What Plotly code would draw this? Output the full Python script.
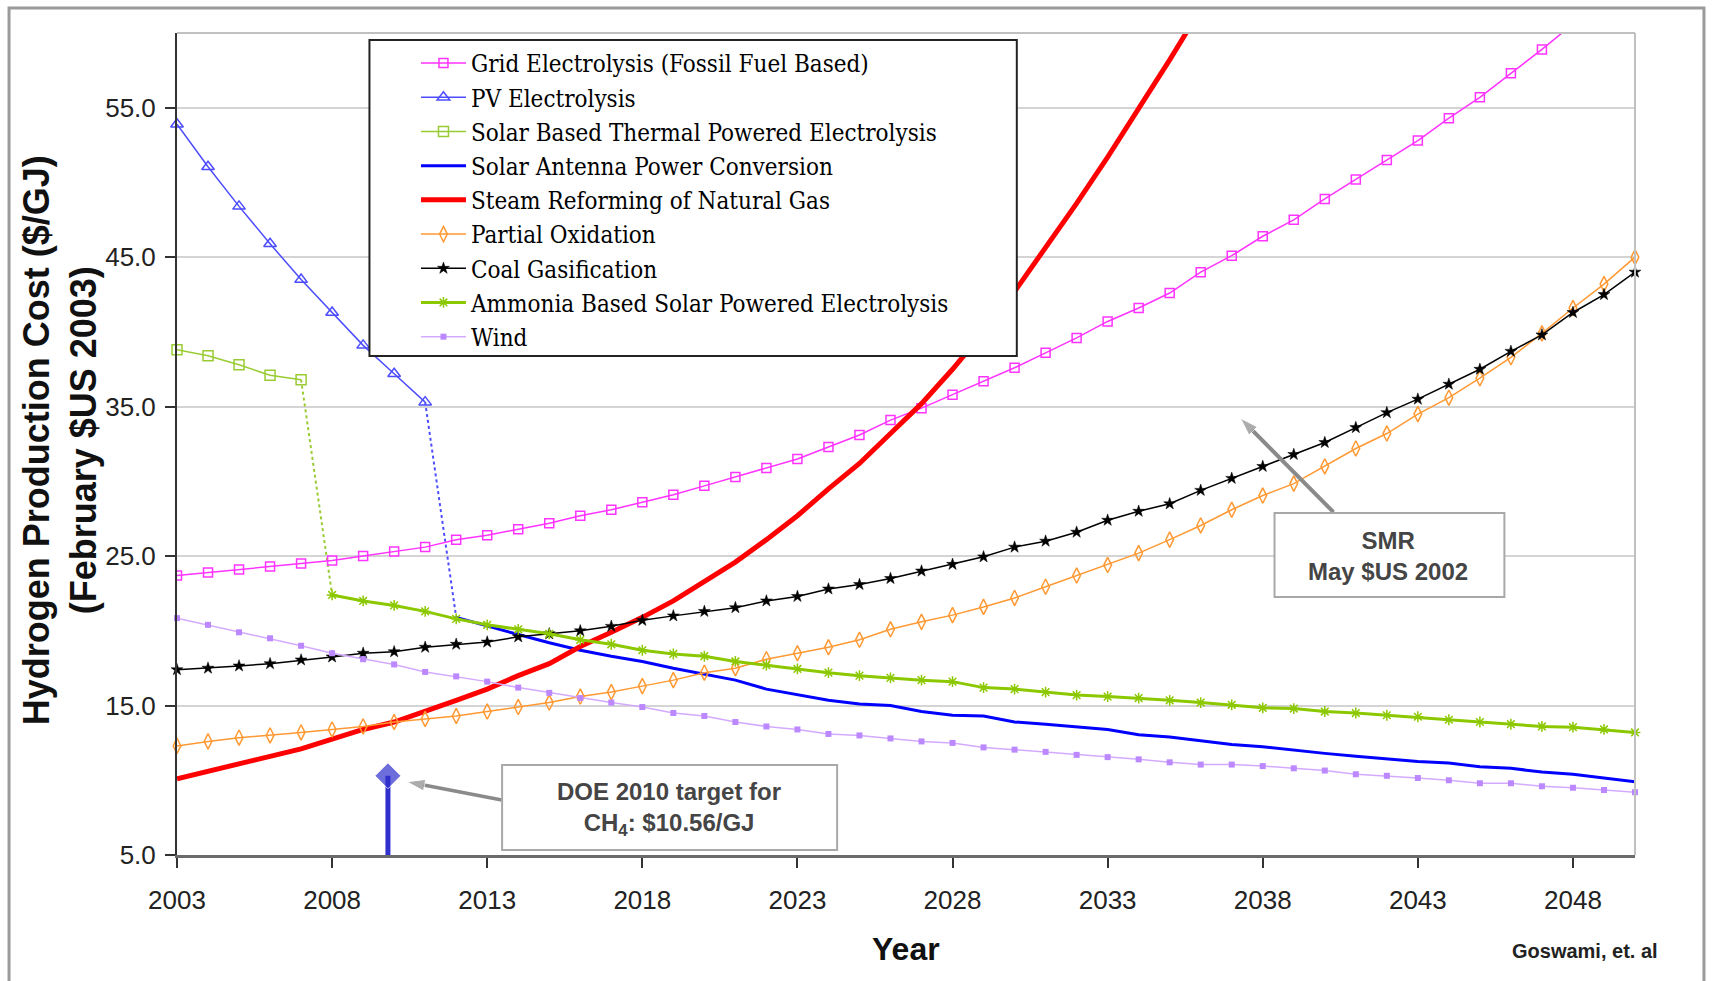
import plotly.graph_objects as go

# ---------------- data ----------------
years = list(range(2003, 2051))

grid_years = list(range(2003, 2049))
grid_cost = [23.7, 23.9, 24.1, 24.3, 24.5, 24.7, 25.0, 25.3, 25.6, 26.1,
             26.4, 26.8, 27.2, 27.7, 28.1, 28.6, 29.1, 29.7, 30.3, 30.9,
             31.5, 32.3, 33.1, 34.1, 34.9, 35.8, 36.7, 37.6, 38.6, 39.6,
             40.7, 41.6, 42.6, 44.0, 45.1, 46.4, 47.5, 48.9, 50.2, 51.5,
             52.8, 54.3, 55.7, 57.3, 58.9, 60.6]

pv_years = list(range(2003, 2012))
pv_cost = [53.9, 51.05, 48.4, 45.9, 43.5, 41.3, 39.1, 37.2, 35.3]

thermal_years = list(range(2003, 2008))
thermal_cost = [38.8, 38.4, 37.8, 37.1, 36.8]

antenna_years = list(range(2012, 2051))
antenna_cost = [20.9, 20.3, 19.75, 19.2, 18.7, 18.3, 17.95, 17.5, 17.1, 16.7,
                16.1, 15.7, 15.35, 15.1, 15.0, 14.6, 14.35, 14.3, 13.9, 13.75,
                13.55, 13.4, 13.05, 12.9, 12.65, 12.4, 12.25, 12.0, 11.8, 11.6,
                11.4, 11.25, 11.15, 10.9, 10.8, 10.55, 10.4, 10.15, 9.9]

smr_years = list(range(2003, 2037))
smr_cost = [10.1, 10.6, 11.1, 11.55, 12.1, 12.75, 13.4, 13.9, 14.6, 15.35,
            16.1, 17.0, 17.8, 18.95, 19.9, 20.9, 22.0, 23.3, 24.6, 26.1,
            27.7, 29.5, 31.2, 33.2, 35.2, 37.5, 40.0, 42.7, 45.6, 48.6,
            51.7, 54.9, 58.2, 61.6]

pox_cost = [12.3, 12.6, 12.85, 13.0, 13.2, 13.4, 13.6, 13.9, 14.1, 14.3,
            14.6, 14.9, 15.2, 15.6, 15.9, 16.3, 16.7, 17.2, 17.5, 18.1,
            18.5, 18.9, 19.4, 20.1, 20.6, 21.05, 21.6, 22.2, 22.95, 23.7,
            24.4, 25.2, 26.1, 27.05, 28.1, 29.05, 29.85, 31.0, 32.2, 33.2,
            34.5, 35.6, 36.9, 38.3, 39.9, 41.6, 43.2, 45.0]

coal_cost = [17.4, 17.5, 17.65, 17.8, 18.05, 18.25, 18.5, 18.6, 18.9, 19.1,
             19.25, 19.6, 19.8, 20.0, 20.3, 20.7, 21.0, 21.3, 21.55, 22.0,
             22.3, 22.8, 23.1, 23.5, 24.0, 24.45, 24.95, 25.6, 26.0, 26.6,
             27.4, 28.0, 28.5, 29.4, 30.2, 31.0, 31.8, 32.6, 33.6, 34.6,
             35.5, 36.5, 37.5, 38.7, 39.8, 41.3, 42.5, 44.0]

ammonia_years = list(range(2008, 2051))
ammonia_cost = [22.4, 22.0, 21.7, 21.3, 20.8, 20.4, 20.1, 19.8, 19.4, 19.1,
                18.7, 18.45, 18.3, 17.95, 17.7, 17.45, 17.2, 17.0, 16.85, 16.7,
                16.6, 16.2, 16.1, 15.9, 15.7, 15.6, 15.5, 15.35, 15.2, 15.05,
                14.85, 14.8, 14.6, 14.5, 14.35, 14.25, 14.05, 13.9, 13.75, 13.6,
                13.55, 13.4, 13.2]

wind_cost = [20.85, 20.4, 19.9, 19.5, 19.0, 18.5, 18.1, 17.75, 17.25, 16.95,
             16.6, 16.2, 15.85, 15.5, 15.2, 14.9, 14.5, 14.3, 13.9, 13.6,
             13.4, 13.1, 13.0, 12.8, 12.6, 12.5, 12.2, 12.05, 11.9, 11.7,
             11.55, 11.4, 11.2, 11.05, 11.05, 10.95, 10.8, 10.65, 10.4, 10.3,
             10.15, 10.0, 9.8, 9.8, 9.6, 9.5, 9.35, 9.2]

doe_target_year = 2009.8
doe_target_cost = 10.3

x_ticks = list(range(2003, 2049, 5))
y_ticks = [5, 15, 25, 35, 45, 55]

names = ["Grid Electrolysis (Fossil Fuel Based)", "PV Electrolysis",
         "Solar Based Thermal Powered Electrolysis", "Solar Antenna Power Conversion",
         "Steam Reforming of Natural Gas", "Partial Oxidation", "Coal Gasification",
         "Ammonia Based Solar Powered Electrolysis", "Wind"]

# ---------------- figure ----------------
SANS = "Liberation Sans, Arial, sans-serif"
SERIF = "DejaVu Serif Condensed, Liberation Serif, Times New Roman, serif"

fig = go.Figure()

def mk(symbol, size, color, lw=1.5):
    return dict(symbol=symbol, size=size, color=color, line=dict(width=lw, color=color))

# dotted connectors
fig.add_trace(go.Scatter(x=[pv_years[-1], antenna_years[0]], y=[pv_cost[-1], antenna_cost[0]],
                         mode="lines", line=dict(color="#4D4DFF", width=2, dash="dot"),
                         showlegend=False, hoverinfo="skip"))
fig.add_trace(go.Scatter(x=[thermal_years[-1], ammonia_years[0]], y=[thermal_cost[-1], ammonia_cost[0]],
                         mode="lines", line=dict(color="#99CC33", width=2, dash="dot"),
                         showlegend=False, hoverinfo="skip"))

fig.add_trace(go.Scatter(x=grid_years, y=grid_cost, name=names[0], mode="lines+markers",
                         line=dict(color="#FF33FF", width=1.5),
                         marker=mk("square-open", 9, "#FF33FF"), cliponaxis=True))
fig.add_trace(go.Scatter(x=pv_years, y=pv_cost, name=names[1], mode="lines+markers",
                         line=dict(color="#4D4DFF", width=1.5),
                         marker=mk("triangle-up-open", 11, "#4D4DFF"), cliponaxis=False))
fig.add_trace(go.Scatter(x=thermal_years, y=thermal_cost, name=names[2], mode="lines+markers",
                         line=dict(color="#99CC33", width=1.5),
                         marker=mk("square-open", 10, "#99CC33"), cliponaxis=False))
fig.add_trace(go.Scatter(x=antenna_years, y=antenna_cost, name=names[3], mode="lines",
                         line=dict(color="#0000FF", width=3)))
fig.add_trace(go.Scatter(x=smr_years, y=smr_cost, name=names[4], mode="lines",
                         line=dict(color="#FF0000", width=5)))
fig.add_trace(go.Scatter(x=years, y=pox_cost, name=names[5], mode="lines+markers",
                         line=dict(color="#FF9933", width=1.5),
                         marker=mk("diamond-tall-open", 11, "#FF9933"), cliponaxis=False))
fig.add_trace(go.Scatter(x=years, y=coal_cost, name=names[6], mode="lines+markers",
                         line=dict(color="#000000", width=1.5),
                         marker=mk("star", 9, "#000000", 0.5), cliponaxis=False))
fig.add_trace(go.Scatter(x=ammonia_years, y=ammonia_cost, name=names[7], mode="lines+markers",
                         line=dict(color="#8CC800", width=3),
                         marker=mk("asterisk-open", 9, "#8CC800", 1.5), cliponaxis=False))
fig.add_trace(go.Scatter(x=years, y=wind_cost, name=names[8], mode="lines+markers",
                         line=dict(color="#D4AAFF", width=1.5),
                         marker=dict(symbol="square", size=6, color="#BB88FF"), cliponaxis=False))

# DOE target marker (vertical blue arrow with diamond head)
fig.add_trace(go.Scatter(x=[doe_target_year, doe_target_year], y=[5, doe_target_cost],
                         mode="lines+markers", line=dict(color="#3030CC", width=5),
                         marker=dict(symbol="diamond", size=[0, 20], color="#3030CC"),
                         showlegend=False, hoverinfo="skip", cliponaxis=False))

# callout arrows (tail -> head), drawn as lines ending in an arrow marker
callout_arrows = [
    dict(tail=(2013.47, 8.68), head=(2010.41, 9.9), width=3.5),
    dict(tail=(2040.28, 27.94), head=(2037.28, 34.23), width=4),
]
for a in callout_arrows:
    fig.add_trace(go.Scatter(x=[a["tail"][0], a["head"][0]], y=[a["tail"][1], a["head"][1]],
                             mode="lines+markers", line=dict(color="#8A8A8A", width=a["width"]),
                             marker=dict(symbol=["circle", "arrow"], size=[0, 19], color="#8A8A8A",
                                         angleref="previous"),
                             showlegend=False, hoverinfo="skip", cliponaxis=False))

shapes = []
# outer frame
shapes.append(dict(type="rect", xref="paper", yref="paper", x0=-0.1152, x1=1.0473, y0=-0.3, y1=1.0304,
                   line=dict(color="#9A9A9A", width=3), fillcolor="rgba(0,0,0,0)", layer="below"))
# plot area top and right borders
shapes.append(dict(type="line", xref="paper", yref="paper", x0=0, x1=1, y0=1, y1=1,
                   line=dict(color="#C0C0C0", width=2)))
shapes.append(dict(type="line", xref="paper", yref="paper", x0=1, x1=1, y0=0, y1=1,
                   line=dict(color="#C0C0C0", width=2)))
# legend box
shapes.append(dict(type="rect", xref="paper", yref="paper", x0=0.132, x1=0.576, y0=0.607, y1=0.9915,
                   line=dict(color="#222222", width=2), fillcolor="white", layer="above"))
# DOE text box
shapes.append(dict(type="rect", xref="x", yref="y", x0=2013.48, x1=2024.28, y0=5.33, y1=11.02,
                   line=dict(color="#A8A8A8", width=2), fillcolor="white", layer="above"))
# SMR text box
shapes.append(dict(type="rect", xref="x", yref="y", x0=2038.38, x1=2045.79, y0=22.26, y1=27.88,
                   line=dict(color="#A8A8A8", width=2), fillcolor="white", layer="above"))

annotations = [
    dict(text="<b>Hydrogen Production Cost ($/GJ)<br>(February $US 2003)</b>", xref="paper", yref="paper",
         x=-0.080, y=0.505, textangle=-90, showarrow=False, xanchor="center", yanchor="middle",
         font=dict(family=SANS, size=36, color="#111111")),
    dict(text="<b>Year</b>", xref="paper", yref="paper", x=0.5, y=-0.114, showarrow=False,
         xanchor="center", yanchor="middle", font=dict(family=SANS, size=32, color="#111111")),
    dict(text="<b>Goswami, et. al</b>", xref="paper", yref="paper", x=0.966, y=-0.117, showarrow=False,
         xanchor="center", yanchor="middle", font=dict(family=SANS, size=20, color="#222222")),
    dict(text="<b>DOE 2010 target for<br>CH<sub>4</sub>: $10.56/GJ</b>", xref="x", yref="y",
         x=2018.85, y=8.1, showarrow=False, xanchor="center", yanchor="middle",
         font=dict(family=SANS, size=24, color="#454545")),
    dict(text="<b>SMR<br>May $US 2002</b>", xref="x", yref="y", x=2042.05, y=25.0, showarrow=False,
         xanchor="center", yanchor="middle", font=dict(family=SANS, size=24, color="#454545")),
]

fig.update_layout(
    width=1714, height=981,
    margin=dict(l=177, r=79, t=33, b=126, pad=0),
    paper_bgcolor="white", plot_bgcolor="white",
    showlegend=True,
    legend=dict(x=0.1639, y=0.9903, xanchor="left", yanchor="top",
                bgcolor="rgba(0,0,0,0)", borderwidth=0, itemwidth=45,
                font=dict(family=SERIF, size=24, color="#000000"),
                tracegroupgap=0),
    shapes=shapes, annotations=annotations,
    xaxis=dict(range=[2003, 2050], tickmode="array", tickvals=x_ticks,
               showgrid=False, zeroline=False, showline=True, linecolor="#6A6A6A", linewidth=3,
               ticks="outside", ticklen=10, tickwidth=2, tickcolor="#333333",
               ticklabelstandoff=10,
               tickfont=dict(family=SANS, size=26, color="#222222")),
    yaxis=dict(range=[5, 60], tickmode="array", tickvals=y_ticks, tickformat=".1f",
               showgrid=True, gridcolor="#D4D4D4", gridwidth=2, zeroline=False,
               showline=True, linecolor="#333333", linewidth=2,
               ticks="outside", ticklen=10, tickwidth=2, tickcolor="#333333",
               ticklabelstandoff=4,
               tickfont=dict(family=SANS, size=26, color="#222222")),
)

fig.write_html("out.html")
